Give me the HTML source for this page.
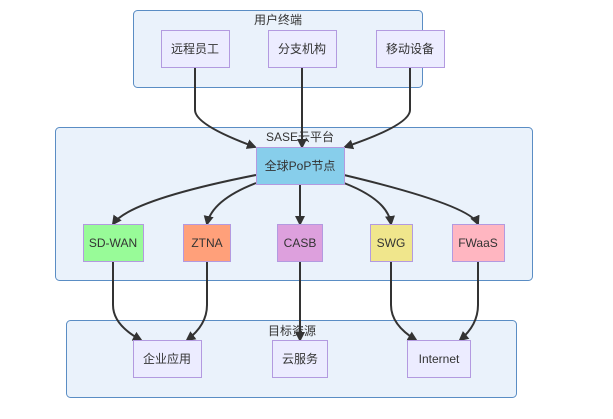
<!DOCTYPE html>
<html><head><meta charset="utf-8"><style>
html,body{margin:0;padding:0;background:#fff;}
svg text{font-family:"Liberation Sans","Noto Sans CJK SC",sans-serif;font-size:12px;fill:#333;}
</style></head><body>
<svg width="613" height="414" viewBox="0 0 613 414" xmlns="http://www.w3.org/2000/svg">
<defs><marker id="a" markerWidth="10" markerHeight="10" refX="8" refY="5" orient="auto" markerUnits="userSpaceOnUse"><path d="M0,0 L10,5 L0,10 z" fill="#333"/></marker></defs>
<g fill="#eaf2fb" stroke="#5a8dc4" stroke-width="1">
<rect x="133.5" y="10.5" width="289" height="77" rx="4"/>
<rect x="55.5" y="127.5" width="477" height="153" rx="4"/>
<rect x="66.5" y="320.5" width="450" height="77" rx="4"/>
</g>
<text x="278" y="24" text-anchor="middle">用户终端</text>
<text x="300" y="141" text-anchor="middle">SASE云平台</text>
<text x="292" y="335" text-anchor="middle">目标资源</text>
<g fill="none" stroke="#333" stroke-width="2">
<path d="M195,67 V110 Q195,125 255,147" marker-end="url(#a)"/>
<path d="M302,67 V147" marker-end="url(#a)"/>
<path d="M410,67 V110 Q410,125 345,147" marker-end="url(#a)"/>
<path d="M256,175 Q130,200 113,224" marker-end="url(#a)"/>
<path d="M256,183 Q212,200 207,224" marker-end="url(#a)"/>
<path d="M300,184 V224" marker-end="url(#a)"/>
<path d="M344,183 Q388,200 391,224" marker-end="url(#a)"/>
<path d="M344,175 Q470,205 478,224" marker-end="url(#a)"/>
<path d="M113,261 V305 Q113,325 141,340" marker-end="url(#a)"/>
<path d="M207,261 V305 Q207,325 187,340" marker-end="url(#a)"/>
<path d="M300,261 V340" marker-end="url(#a)"/>
<path d="M391,261 V305 Q391,325 416,340" marker-end="url(#a)"/>
<path d="M478,261 V305 Q478,325 460,340" marker-end="url(#a)"/>
</g>
<g stroke="#b39ae0" stroke-width="1">
<rect x="161.5" y="30.5" width="68" height="37" fill="#ececff"/>
<rect x="268.5" y="30.5" width="68" height="37" fill="#ececff"/>
<rect x="376.5" y="30.5" width="68" height="37" fill="#ececff"/>
<rect x="256.5" y="147.5" width="88" height="37" fill="#87ceeb"/>
<rect x="83.5" y="224.5" width="60" height="37" fill="#98fb98"/>
<rect x="183.5" y="224.5" width="47" height="37" fill="#ffa07a"/>
<rect x="277.5" y="224.5" width="45" height="37" fill="#dda0dd"/>
<rect x="370.5" y="224.5" width="42" height="37" fill="#f0e68c"/>
<rect x="452.5" y="224.5" width="52" height="37" fill="#ffb6c1"/>
<rect x="133.5" y="340.5" width="68" height="37" fill="#ececff"/>
<rect x="272.5" y="340.5" width="55" height="37" fill="#ececff"/>
<rect x="407.5" y="340.5" width="63" height="37" fill="#ececff"/>
</g>
<g text-anchor="middle">
<text x="195" y="53">远程员工</text>
<text x="302" y="53">分支机构</text>
<text x="410" y="53">移动设备</text>
<text x="300" y="170">全球PoP节点</text>
<text x="113" y="247">SD-WAN</text>
<text x="207" y="247">ZTNA</text>
<text x="300" y="247">CASB</text>
<text x="391" y="247">SWG</text>
<text x="478" y="247">FWaaS</text>
<text x="167" y="363">企业应用</text>
<text x="300" y="363">云服务</text>
<text x="439" y="363">Internet</text>
</g>
</svg>
</body></html>
